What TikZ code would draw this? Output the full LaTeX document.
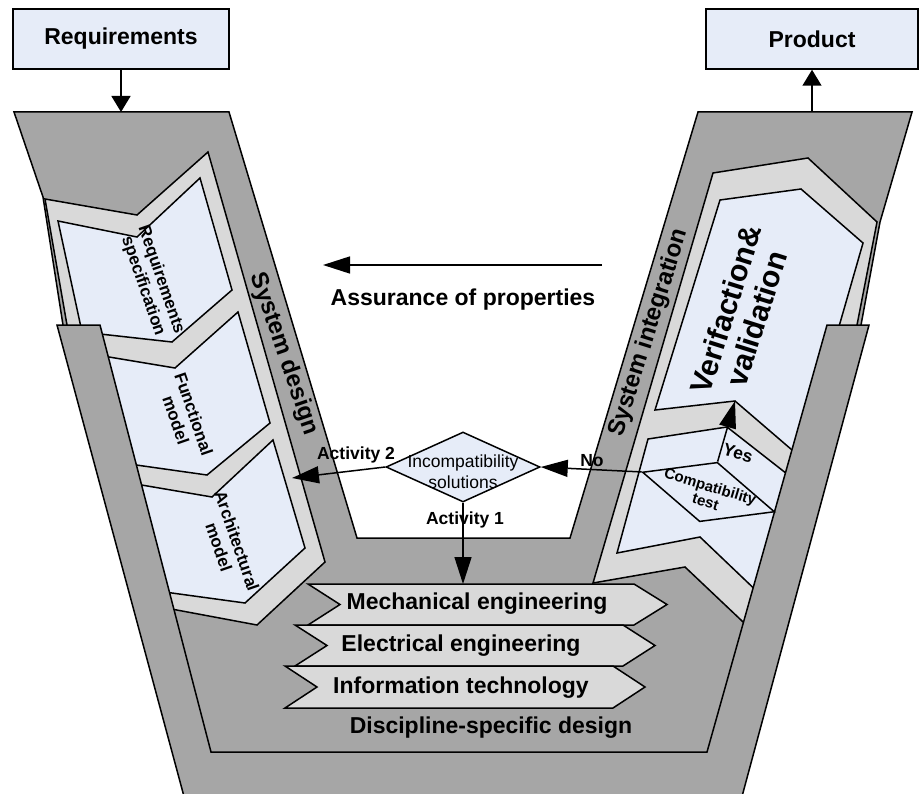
\documentclass[tikz,border=0pt]{standalone}
\usepackage{fontspec}
\setmainfont{Liberation Sans}
\usetikzlibrary{arrows.meta,shapes.geometric}

\definecolor{bandgray}{RGB}{166,166,166}
\definecolor{framegray}{RGB}{217,217,217}
\definecolor{panelblue}{RGB}{230,236,248}

\begin{document}
\begin{tikzpicture}[x=1pt,y=-1pt,
  outline/.style={draw=black,line width=1.5pt,line join=miter},
  band/.style={outline,fill=bandgray},
  framepoly/.style={outline,fill=framegray},
  panel/.style={outline,fill=panelblue},
  flow/.style={draw=black,line width=1.5pt,-{Triangle[length=27pt,width=17pt]}},
  inout/.style={draw=black,line width=1.5pt,-{Triangle[length=16pt,width=19pt]}},
  box/.style={outline,fill=panelblue,minimum width=216pt,minimum height=60pt,inner sep=0pt,
    font=\bfseries\fontsize{23}{27}\selectfont},
  biglbl/.style={inner sep=0pt,font=\bfseries\fontsize{23}{27}\selectfont},
  bandlbl/.style={inner sep=0pt,font=\bfseries\fontsize{24}{28}\selectfont},
  vvlbl/.style={inner sep=0pt,align=center,font=\bfseries\fontsize{30}{32}\selectfont},
  panellbl/.style={inner sep=0pt,align=center,font=\bfseries\fontsize{17}{19}\selectfont},
  lbl/.style={inner sep=0pt,font=\bfseries\fontsize{17.5}{20}\selectfont},
  smalllbl/.style={inner sep=0pt,align=center,font=\bfseries\fontsize{15}{16}\selectfont},
  decision/.style={diamond,outline,fill=panelblue,inner sep=0pt},
  discipline/.style={outline,fill=framegray}
]
\clip (0,0) rectangle (920,794);

% V-shaped design / integration band
\draw[band] (14,112) -- (229,112) -- (357,538) -- (570,538) -- (698,112) -- (912,112)
  -- (880,222) -- (861,325) -- (733,752) -- (725,775) -- (190,775) -- (185,752)
  -- (63,325) -- (43,197) -- cycle;

% system design stack
\draw[framepoly] (45,199) -- (137,215) -- (208,152) -- (325,562) -- (257,625) -- (150,605) -- (67,325) -- cycle;
\draw[panel] (58,221) -- (137,237) -- (200,178) -- (232,290) -- (172,342) -- (82,332) -- cycle;
\draw[panel] (85,353) -- (175,368) -- (238,312) -- (270,423) -- (207,475) -- (115,462) -- cycle;
\draw[panel] (118,481) -- (212,497) -- (273,440) -- (305,548) -- (245,603) -- (150,590) -- cycle;

% system integration stack
\draw[framepoly] (713,173) -- (808,158) -- (877,222) -- (857,325) -- (760,638) -- (685,567) -- (593,583) -- cycle;
\draw[panel] (720,200) -- (801,189) -- (863,243) -- (840,323) -- (799,456) -- (735,401) -- (655,410) -- cycle;
\draw[panel] (648,439) -- (727,427) -- (796,481) -- (765,599) -- (700,537) -- (617,553) -- cycle;

% discipline-specific design base
\draw[band] (57,325) -- (189,815) -- (737,815) -- (869,325) -- (827,325) -- (707,752) -- (211,752) -- (100,325) -- cycle;

% band and panel labels
\node[bandlbl,rotate=-71] (sysdesign) at (284,354) {System design};
\node[bandlbl,rotate=72.5] (sysint) at (649,333) {System integration};
\node[vvlbl,rotate=72.5] (verval) at (741,314) {Verifaction\&\\validation};
\node[panellbl,rotate=-71] (reqspec) at (152,283) {Requirements\\specification};
\node[panellbl,rotate=-71] (funcmodel) at (185,417) {Functional\\model};
\node[panellbl,rotate=-71] (archmodel) at (228,544) {Architectural\\model};

% discipline arrows
\draw[discipline] (308,584) -- (634,584) -- (667,604.5) -- (634,625) -- (308,625) -- (340,604.5) -- cycle;
\draw[discipline] (295,625) -- (623,625) -- (655,645.5) -- (623,666) -- (295,666) -- (327,645.5) -- cycle;
\draw[discipline] (285,666) -- (613,666) -- (645,687) -- (613,708) -- (285,708) -- (317,687) -- cycle;
\node[biglbl] (mech) at (477,604) {Mechanical engineering};
\node[biglbl] (elec) at (461,646) {Electrical engineering};
\node[biglbl] (infotech) at (461,688) {Information technology};
\node[biglbl] (dsd) at (491,728) {Discipline-specific design};

% decisions
\node[decision,minimum width=154pt,minimum height=70pt] (inc) at (463,467) {};
\node[inner sep=0pt,align=center,font=\fontsize{17.5}{21}\selectfont] (inctext) at (463,472) {Incompatibility\\solutions};
\node[decision,minimum width=138pt,minimum height=62pt,rotate=-16.7] (cmp) at (708.5,492) {};
\node[smalllbl,rotate=-16.7] (cmptext) at (708,494) {Compatibility\\test};

% flows between decisions
\coordinate (vvbase) at (735,401);
\coordinate (sdedge) at (292,478);
\coordinate (mechtop) at (463,584);
\draw[flow] (cmp.north) -- (vvbase);
\draw[flow] (cmp.west) -- (inc.east);
\draw[flow] (inc.west) -- (sdedge);
\draw[flow] (inc.south) -- (mechtop);
\node[lbl,rotate=-16.7] (yes) at (738,453) {Yes};
\node[lbl] (no) at (592,461) {No};
\node[lbl] (act2) at (356,455) {Activity 2};
\node[lbl] (act1) at (465,520) {Activity 1};

% assurance of properties
\coordinate (asstart) at (602,265);
\coordinate (asend) at (323,265);
\draw[flow] (asstart) -- (asend);
\node[biglbl] (assurance) at (463,300) {Assurance of properties};

% inputs and outputs
\node[box] (req) at (121,39) {Requirements};
\node[box,minimum width=212pt] (prod) at (812,39) {Product};
\coordinate (vleft) at (121,112);
\coordinate (vright) at (812,112);
\draw[inout] (req.south) -- (vleft);
\draw[inout] (vright) -- (prod.south);
\end{tikzpicture}
\end{document}
